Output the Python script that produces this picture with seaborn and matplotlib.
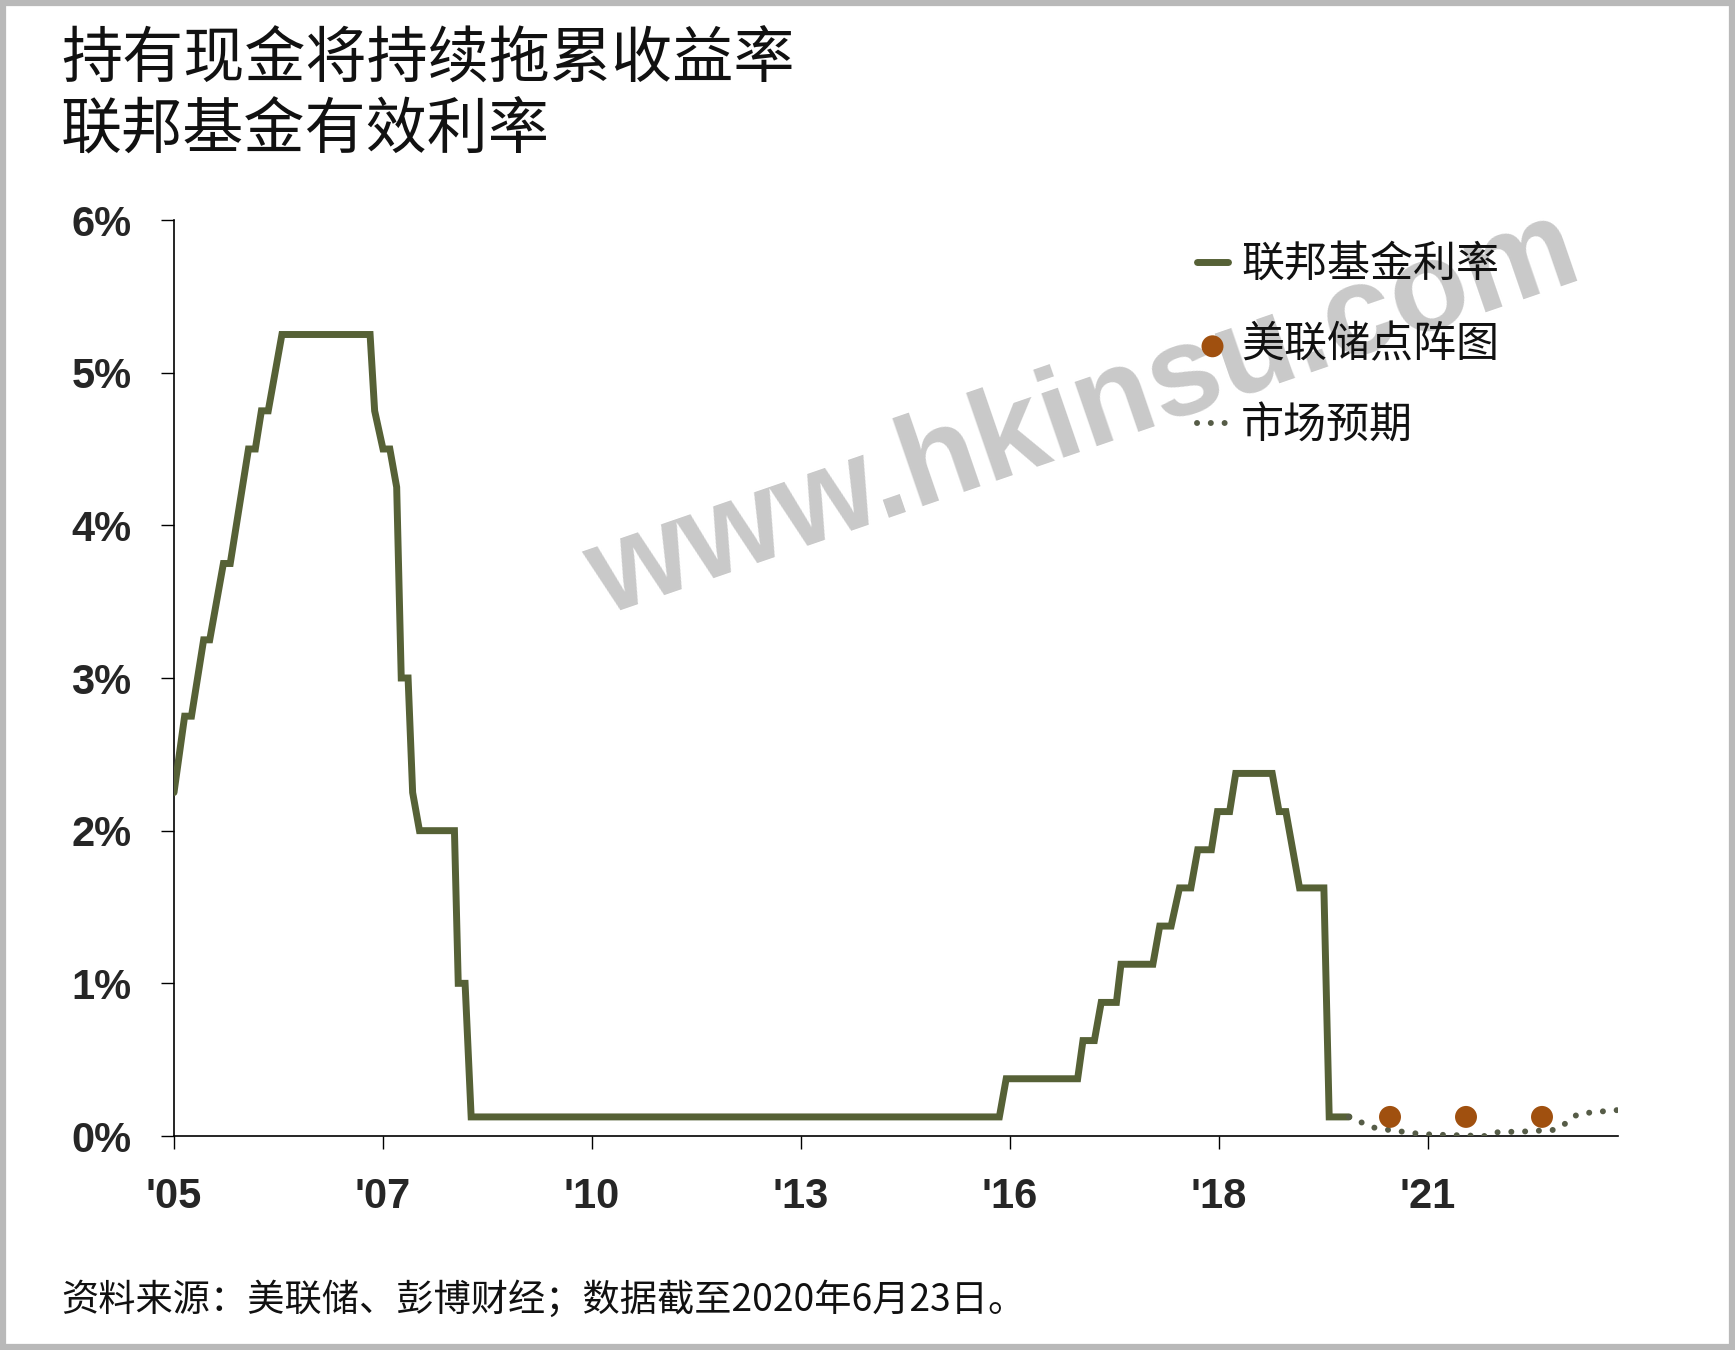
import matplotlib
matplotlib.use("Agg")
import matplotlib.pyplot as plt
import seaborn as sns
import pandas as pd
from matplotlib.patches import Rectangle

# ---------------- data ----------------
fed_time = [2005.00, 2005.14, 2005.23, 2005.39, 2005.47, 2005.65, 2005.74,
            2005.98, 2006.07, 2006.15, 2006.24, 2006.42, 2007.58, 2007.64,
            2007.75, 2007.84, 2007.93, 2007.99, 2008.08, 2008.14, 2008.23,
            2008.69, 2008.74, 2008.83, 2008.91, 2015.86, 2015.95, 2016.89,
            2016.96, 2017.11, 2017.20, 2017.40, 2017.46, 2017.88, 2017.97,
            2018.12, 2018.23, 2018.38, 2018.47, 2018.65, 2018.73, 2018.89,
            2018.97, 2019.45, 2019.54, 2019.63, 2019.72, 2019.81, 2020.13,
            2020.20, 2020.46]
fed_rate = [2.25, 2.75, 2.75, 3.25, 3.25, 3.75, 3.75,
            4.50, 4.50, 4.75, 4.75, 5.25, 5.25, 4.75,
            4.50, 4.50, 4.25, 3.00, 3.00, 2.25, 2.00,
            2.00, 1.00, 1.00, 0.125, 0.125, 0.375, 0.375,
            0.625, 0.625, 0.875, 0.875, 1.125, 1.125, 1.375,
            1.375, 1.625, 1.625, 1.875, 1.875, 2.125, 2.125,
            2.375, 2.375, 2.125, 2.125, 1.875, 1.625, 1.625,
            0.125, 0.125]

market_time = [2020.46, 2020.62, 2020.79, 2020.98, 2021.34, 2021.53, 2021.88,
               2022.25, 2022.42, 2022.79, 2023.16, 2023.32, 2023.46, 2023.65,
               2024.00]
market_rate = [0.125, 0.09, 0.055, 0.04, 0.017, 0.01, 0.005,
               0.0, 0.025, 0.03, 0.04, 0.085, 0.14, 0.155,
               0.17]

dot_time = [2021.0, 2022.0, 2023.0]
dot_rate = [0.125, 0.125, 0.125]

x_ticks = [2005.0, 2007.75, 2010.5, 2013.25, 2016.0, 2018.75, 2021.5]
x_tick_labels = ["'05", "'07", "'10", "'13", "'16", "'18", "'21"]
y_ticks = [0, 1, 2, 3, 4, 5, 6]
y_tick_labels = ["0%", "1%", "2%", "3%", "4%", "5%", "6%"]

title_line1 = "持有现金将持续拖累收益率"
title_line2 = "联邦基金有效利率"
legend_labels = ["联邦基金利率", "美联储点阵图", "市场预期"]
source_text = "资料来源：美联储、彭博财经；数据截至2020年6月23日。"
watermark_text = "www.hkinsu.com"

# ---------------- styling ----------------
LINE_COLOR = "#566136"
DOTTED_COLOR = "#565C47"
DOT_COLOR = "#A0500F"

sns.set_style("white")
plt.rcParams["font.family"] = ["Noto Sans CJK SC", "DejaVu Sans"]

W, H = 1735, 1350
fig = plt.figure(figsize=(W / 100, H / 100), dpi=100)
fig.patch.set_facecolor("white")

left, right = 174 / W, 1618 / W
bottom, top = 1 - 1136 / H, 1 - 220 / H
ax = fig.add_axes([left, bottom, right - left, top - bottom])
ax.set_facecolor("none")

fed_df = pd.DataFrame({"t": fed_time, "rate": fed_rate})
mkt_df = pd.DataFrame({"t": market_time, "rate": market_rate})
dot_df = pd.DataFrame({"t": dot_time, "rate": dot_rate})

sns.lineplot(data=fed_df, x="t", y="rate", ax=ax, color=LINE_COLOR,
             linewidth=5.0, estimator=None, sort=False,
             label=legend_labels[0], zorder=3)
sns.scatterplot(data=dot_df, x="t", y="rate", ax=ax, color=DOT_COLOR,
                s=250, edgecolor="none", label=legend_labels[1], zorder=4)
sns.lineplot(data=mkt_df, x="t", y="rate", ax=ax, color=DOTTED_COLOR,
             linewidth=4.3, estimator=None, sort=False,
             label=legend_labels[2], zorder=3)
mline = ax.get_lines()[-1]
mline.set_dashes((0.01, 2.3))
mline.set_dash_capstyle("round")
ax.get_lines()[0].set_solid_joinstyle("miter")

ax.set_xlim(2005.0, 2024.0)
ax.set_ylim(0, 6)
ax.set_xlabel("")
ax.set_ylabel("")

ax.set_xticks(x_ticks)
ax.set_xticklabels(x_tick_labels, fontfamily="Liberation Sans",
                   fontweight="bold", fontsize=30)
ax.set_yticks(y_ticks)
ax.set_yticklabels(y_tick_labels, fontfamily="Liberation Sans",
                   fontweight="bold", fontsize=30)
ax.tick_params(axis="x", direction="out", length=9.5, width=1.0,
               color="black", pad=20, bottom=True)
ax.tick_params(axis="y", direction="out", length=9.5, width=1.0,
               color="black", pad=21, left=True)

for s in ["top", "right"]:
    ax.spines[s].set_visible(False)
for s in ["left", "bottom"]:
    ax.spines[s].set_visible(True)
    ax.spines[s].set_color("black")
    ax.spines[s].set_linewidth(1.2)
ax.grid(False)

# legend
handles, labels = ax.get_legend_handles_labels()
order = [labels.index(l) for l in legend_labels]
leg = ax.legend([handles[i] for i in order], [labels[i] for i in order],
                loc="upper left", bbox_to_anchor=(1197 / W, 1 - 243 / H),
                bbox_transform=fig.transFigure, frameon=False,
                borderpad=0, borderaxespad=0, fontsize=31,
                handlelength=0.72, handletextpad=0.3, labelspacing=0.85)
for txt in leg.get_texts():
    txt.set_color("#111111")
leg.set_zorder(6)

# watermark (behind the data)
ax.text(1084 / W, 1 - 416 / H, watermark_text, transform=fig.transFigure,
        rotation=19.0, ha="center", va="center", fontsize=92,
        fontfamily="Liberation Sans", fontweight="bold", color="#C9C9C9",
        zorder=0.5)

# titles and source
fig.text(61 / W, 1 - 60 / H, title_line1, fontsize=44, fontweight=300,
         ha="left", va="center", color="#111111")
fig.text(61 / W, 1 - 131 / H, title_line2, fontsize=44, fontweight=300,
         ha="left", va="center", color="#111111")
fig.text(61 / W, 1 - 1300 / H, source_text, fontsize=26.8, fontweight=300,
         ha="left", va="center", color="#111111")

# grey frame around the picture
fig.patches.append(Rectangle((0.0015, 0.002), 0.997, 0.996,
                             transform=fig.transFigure, fill=False,
                             edgecolor="#B9B9B9", linewidth=4.5))

fig.savefig("out.png", dpi=100)
